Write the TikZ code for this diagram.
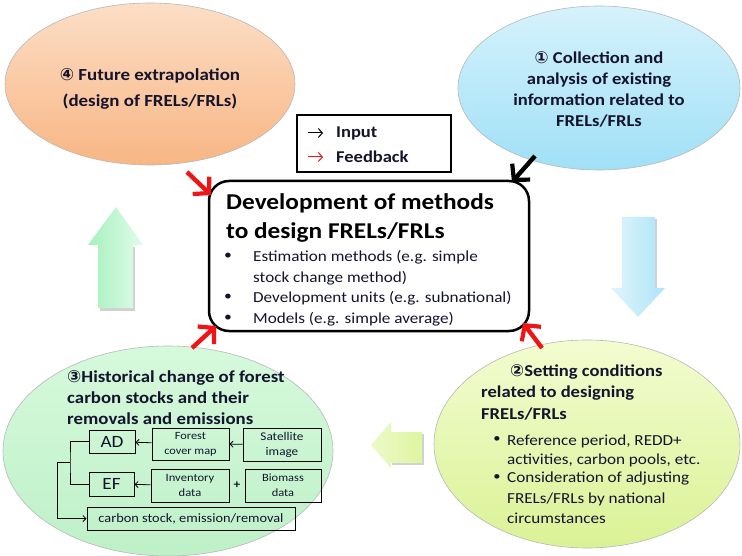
\documentclass[tikz,border=0pt]{standalone}
\usepackage{fontspec}
\setmainfont{Carlito}[FakeStretch=1.12]
\newfontfamily\sym{DejaVu Sans}
\usetikzlibrary{shapes.geometric,arrows.meta}

\definecolor{navy}{RGB}{20,20,45}
\definecolor{orTop}{RGB}{252,222,198}
\definecolor{orBot}{RGB}{248,182,132}
\definecolor{blTop}{RGB}{214,242,252}
\definecolor{blBot}{RGB}{160,224,246}
\definecolor{grTop}{RGB}{214,249,220}
\definecolor{grBot}{RGB}{190,241,200}
\definecolor{yeTop}{RGB}{243,252,208}
\definecolor{yeBot}{RGB}{218,242,150}
\definecolor{arrRed}{RGB}{240,20,20}

\tikzset{
  phase/.style={ellipse, draw=black!28, line width=0.6pt, inner sep=0pt},
  ptext/.style={text=navy, font=\fontsize{16.6}{21}\selectfont\bfseries, inner sep=0pt},
  btext/.style={text=navy, font=\fontsize{15.3}{20.5}\selectfont, inner sep=0pt, anchor=west},
  ytext/.style={text=navy, font=\fontsize{15.3}{19}\selectfont, inner sep=0pt, anchor=west},
  fb/.style={draw=arrRed, line width=4.4pt, -{Straight Barb[length=11pt,width=24pt,line width=4.2pt]}},
  inp/.style={draw=black, line width=4.4pt, -{Straight Barb[length=11pt,width=24pt,line width=4.2pt]}},
  legarr/.style={line width=1pt, -{Straight Barb[length=4pt,width=9pt,line width=1pt]}},
  sbox/.style={draw=black, line width=1pt, inner sep=0pt, align=center, text=navy},
  sarr/.style={draw=black, line width=0.8pt, -{Straight Barb[length=3pt,width=6pt]}},
  sline/.style={draw=black, line width=0.8pt},
  blockshadow/.style={fill=black!18},
}

\begin{document}
\begin{tikzpicture}[x=1pt,y=-1pt]
\useasboundingbox (0,0) rectangle (742,556);
\fill[white] (0,0) rectangle (742,556);

% ---- the four phases ----
\node[phase, minimum width=290pt, minimum height=162pt, top color=orTop, bottom color=orBot] (fut) at (150,84) {};
\node[phase, minimum width=282pt, minimum height=164pt, top color=blTop, bottom color=blBot] (coll) at (599,88) {};
\node[phase, minimum width=330pt, minimum height=210pt, top color=grTop, bottom color=grBot] (hist) at (168,451) {};
\node[phase, minimum width=306pt, minimum height=208pt, top color=yeTop, bottom color=yeBot] (setc) at (587,444) {};

% ---- big block arrows between phases ----
% up (green)
\fill[blockshadow] (100,247) -- (100,311) -- (135,311) -- (135,247) -- cycle;
\shade[left color={rgb,255:red,166;green,240;blue,190}, right color={rgb,255:red,226;green,252;blue,234}]
  (116,207) -- (143,245) -- (133,245) -- (133,308) -- (98,308) -- (98,245) -- (88,245) -- cycle;
% down (blue)
\fill[blockshadow] (624,219) -- (657,219) -- (657,289) -- (624,289) -- cycle;
\shade[left color={rgb,255:red,226;green,245;blue,252}, right color={rgb,255:red,172;green,228;blue,247}]
  (622,217) -- (655,217) -- (655,288) -- (665,288) -- (638,317) -- (611,288) -- (622,288) -- cycle;
% left (yellow-green)
\fill[blockshadow] (392,434) -- (424,434) -- (424,465) -- (392,465) -- cycle;
\shade[left color={rgb,255:red,236;green,250;blue,200}, right color={rgb,255:red,222;green,245;blue,160}]
  (371,445) -- (391,422) -- (391,432) -- (422,432) -- (422,463) -- (391,463) -- (391,468) -- cycle;

% ---- central box ----
\node[draw=black, line width=2.5pt, rounded corners=20pt, minimum width=320pt, minimum height=150pt, fill=white] (dev) at (369,256) {};
\node[anchor=west, inner sep=0pt, font=\fontsize{22.6}{29}\selectfont\bfseries, text=black, align=left] (devt) at (226,217.5)
  {Development of methods\\to design FRELs/FRLs};
\foreach \yy/\tx [count=\i] in {257/{Estimation methods (e.g. simple}, 278/{stock change method)}, 298/{Development units (e.g. subnational)}, 319/{Models (e.g. simple average)}}{
  \node[btext] (devb\i) at (253,\yy) {\tx};
}
\foreach \yy [count=\i] in {257,298,319}{
  \node[inner sep=0pt, font=\fontsize{14}{14}\selectfont, text=navy] (dot\i) at (228,\yy-1) {•};
}

% ---- legend ----
\node[draw=black, line width=2pt, minimum width=154pt, minimum height=57pt, fill=white] (legend) at (374,143.5) {};
\node[anchor=west, inner sep=0pt, font=\fontsize{16.5}{16.5}\selectfont\bfseries, text=navy] (lin) at (336,133) {Input};
\node[anchor=west, inner sep=0pt, font=\fontsize{16.5}{16.5}\selectfont\bfseries, text=navy] (lfb) at (336,157) {Feedback};
\coordinate (lia) at (308,133);
\coordinate (lib) at (323,133);
\coordinate (lfa) at (308,157);
\coordinate (lfb2) at (323,157);
\draw[legarr, draw=black] (lia) -- (lib);
\draw[legarr, draw=arrRed] (lfa) -- (lfb2);

% ---- phase texts ----
\node[ptext, font=\fontsize{16.9}{21}\selectfont\bfseries, align=center] (futt) at (150,88.5) {{\sym\bfseries ④} Future extrapolation\\[5pt](design of FRELs/FRLs)};
\node[ptext, align=center] (collt) at (599,89) {{\sym\bfseries ①} Collection and\\analysis of existing\\information related to\\FRELs/FRLs};

\node[ptext, font=\fontsize{16.8}{21}\selectfont\bfseries, align=left, anchor=west] (histt) at (67,397.5)
  {{\sym\bfseries ③}Historical change of forest\\carbon stocks and their\\removals and emissions};

\node[ptext, anchor=west] (set1) at (510,372) {{\sym\bfseries ②}Setting conditions};
\node[ptext, anchor=west] (set2) at (481,393) {related to designing};
\node[ptext, anchor=west] (set3) at (481,414) {FRELs/FRLs};
\foreach \yy/\tx [count=\i] in {441/{Reference period, REDD+}, 460/{activities, carbon pools, etc.}, 479/{Consideration of adjusting}, 499/{FRELs/FRLs by national}, 518/{circumstances}}{
  \node[ytext] (setb\i) at (507,\yy) {\tx};
}
\node[inner sep=0pt, font=\fontsize{13}{13}\selectfont, text=navy] (sdot1) at (497,440) {•};
\node[inner sep=0pt, font=\fontsize{13}{13}\selectfont, text=navy] (sdot2) at (497,478) {•};

% ---- data flow inside phase 3 ----
\node[sbox, minimum width=46pt, minimum height=23pt, font=\fontsize{17.2}{17}\selectfont] (ad) at (112,441.5) {AD};
\node[sbox, minimum width=77pt, minimum height=32pt, font=\fontsize{11}{15}\selectfont] (fcm) at (190.5,444) {Forest\\cover map};
\node[sbox, minimum width=78pt, minimum height=33pt, font=\fontsize{11.8}{15}\selectfont] (sat) at (282,444.5) {Satellite\\image};
\node[sbox, minimum width=45pt, minimum height=24pt, font=\fontsize{17.2}{17}\selectfont] (ef) at (111.5,484) {EF};
\node[sbox, minimum width=78pt, minimum height=33pt, font=\fontsize{11.2}{15}\selectfont] (inv) at (190,485.5) {Inventory\\data};
\node[inner sep=0pt, font=\fontsize{12}{12}\selectfont\bfseries, text=navy] (plus) at (237,485) {+};
\node[sbox, minimum width=76pt, minimum height=33pt, font=\fontsize{11.1}{15}\selectfont] (bio) at (283,485.5) {Biomass\\data};
\node[sbox, minimum width=208pt, minimum height=23pt, font=\fontsize{12.8}{13}\selectfont] (cst) at (191,518.5) {carbon stock, emission/removal};

\draw[sarr] (fcm) -- (ad);
\draw[sarr] (sat) -- (fcm);
\draw[sarr] (inv) -- (ef);
\coordinate (brk) at (70,462);
\coordinate (src) at (57,462);
\draw[sline] (ad.west) -| (brk) |- (ef.west);
\draw[sline] (brk) -- (src);
\draw[sarr] (src) |- (cst.west);

% ---- input / feedback arrows to the central box ----
\coordinate (i1a) at (535,156);
\coordinate (i1b) at (512,182);
\coordinate (f4a) at (187,172);
\coordinate (f4b) at (211,195);
\coordinate (f3a) at (192,348);
\coordinate (f3b) at (216,326);
\coordinate (f2a) at (542,348);
\coordinate (f2b) at (523,323);
\draw[inp] (i1a) -- (i1b);
\draw[fb] (f4a) -- (f4b);
\draw[fb] (f3a) -- (f3b);
\draw[fb] (f2a) -- (f2b);
\end{tikzpicture}
\end{document}
